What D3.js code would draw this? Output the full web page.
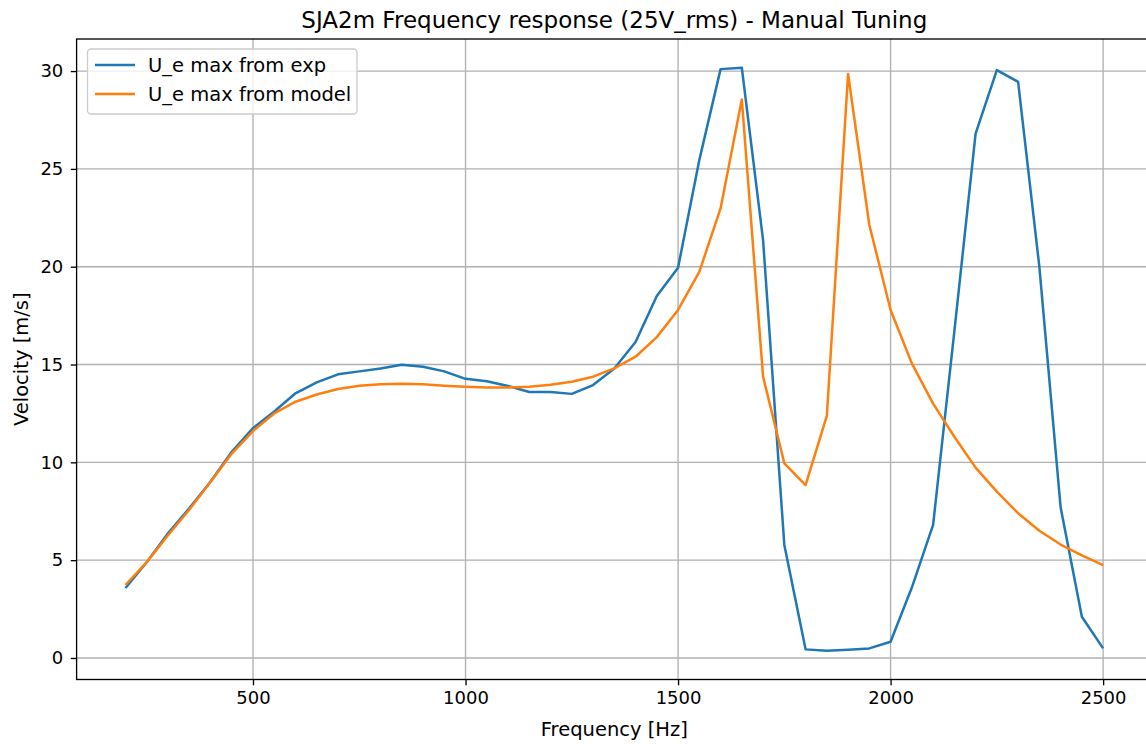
<!DOCTYPE html>
<html>
<head>
<meta charset="utf-8">
<script src="https://cdn.jsdelivr.net/npm/d3@7"></script>
<style>
  html, body { margin: 0; padding: 0; background: #fff; }
  svg { display: block; font-family: "DejaVu Sans", sans-serif; }
</style>
</head>
<body>
<svg id="chart" width="1146" height="744"></svg>
<script>
const frequencies = [200,250,300,350,400,450,500,550,600,650,700,750,800,850,900,950,1000,1050,1100,1150,1200,1250,1300,1350,1400,1450,1500,1550,1600,1650,1700,1750,1800,1850,1900,1950,2000,2050,2100,2150,2200,2250,2300,2350,2400,2450,2500];
const expValues = [3.58,4.89,6.37,7.65,9.01,10.54,11.75,12.6,13.53,14.09,14.5,14.65,14.8,14.99,14.89,14.65,14.27,14.15,13.9,13.6,13.6,13.5,13.95,14.8,16.15,18.5,19.95,25.45,30.1,30.17,21.36,5.78,0.44,0.37,0.42,0.49,0.83,3.6,6.8,16.7,26.8,30.05,29.45,20.0,7.7,2.11,0.49];
const modelValues = [3.73,4.9,6.27,7.58,9.0,10.45,11.6,12.5,13.1,13.47,13.75,13.92,13.99,14.02,13.99,13.92,13.87,13.83,13.82,13.87,13.97,14.12,14.38,14.8,15.4,16.4,17.79,19.74,22.98,28.55,14.38,9.95,8.84,12.37,29.85,22.13,17.79,15.06,13.0,11.31,9.73,8.5,7.4,6.5,5.8,5.25,4.75];
const seriesNames = ["U_e max from exp", "U_e max from model"];
const seriesColors = ["#1f77b4", "#ff7f0e"];
const xTicks = [500,1000,1500,2000,2500];
const yTicks = [0,5,10,15,20,25,30];
const titleText = "SJA2m Frequency response (25V_rms) - Manual Tuning";
const xLabelText = "Frequency [Hz]";
const yLabelText = "Velocity [m/s]";

(function () {
const svg = d3.select("#chart");
const pL = 76.6, pR = 1152, pT = 39, pB = 679.5;

const x = d3.scaleLinear().domain([85, 2615]).range([pL, pR]);
const y = d3.scaleLinear().domain([-1.1, 31.64]).range([pB, pT]);

// grid
const g = svg.append("g");
g.selectAll(".vg").data(xTicks).enter().append("line")
  .attr("x1", d => x(d)).attr("x2", d => x(d))
  .attr("y1", pT).attr("y2", pB)
  .attr("stroke", "#b0b0b0").attr("stroke-width", 1.33);
g.selectAll(".hg").data(yTicks).enter().append("line")
  .attr("x1", pL).attr("x2", pR)
  .attr("y1", d => y(d)).attr("y2", d => y(d))
  .attr("stroke", "#b0b0b0").attr("stroke-width", 1.33);

// lines
const series = [expValues, modelValues];
const lineGen = d3.line().x((d, i) => x(frequencies[i])).y(d => y(d));
series.forEach((vals, k) => {
  svg.append("path").datum(vals)
    .attr("d", lineGen)
    .attr("fill", "none")
    .attr("stroke", seriesColors[k])
    .attr("stroke-width", 2.5)
    .attr("stroke-linejoin", "round")
    .attr("stroke-linecap", "butt");
});

// axes
const xAxis = d3.axisBottom(x).tickValues(xTicks).tickSize(5.8).tickPadding(5.8).tickFormat(d3.format("d"));
const yAxis = d3.axisLeft(y).tickValues(yTicks).tickSize(5.8).tickPadding(7.5).tickFormat(d3.format("d"));
const xa = svg.append("g").attr("transform", `translate(0,${pB})`).call(xAxis);
const ya = svg.append("g").attr("transform", `translate(${pL},0)`).call(yAxis);
[xa, ya].forEach(a => {
  a.select(".domain").remove();
  a.selectAll(".tick line").attr("stroke", "#000").attr("stroke-width", 1.33);
  a.selectAll(".tick text").attr("font-size", "18px").attr("fill", "#000")
    .attr("font-family", "DejaVu Sans, sans-serif");
});

// spines
svg.append("rect").attr("x", pL).attr("y", pT)
  .attr("width", pR - pL).attr("height", pB - pT)
  .attr("fill", "none").attr("stroke", "#000").attr("stroke-width", 1.33);

// title & labels
svg.append("text").attr("x", (pL + pR) / 2).attr("y", 28)
  .attr("text-anchor", "middle").attr("font-size", "23px").attr("fill", "#000").text(titleText);
svg.append("text").attr("x", (pL + pR) / 2).attr("y", 736)
  .attr("text-anchor", "middle").attr("font-size", "19.5px").attr("fill", "#000").text(xLabelText);
svg.append("text").attr("transform", `translate(28,${(pT + pB) / 2}) rotate(-90)`)
  .attr("text-anchor", "middle").attr("font-size", "19.5px").attr("fill", "#000").text(yLabelText);

// legend
const lg = svg.append("g");
lg.append("rect").attr("x", 87.5).attr("y", 49).attr("width", 269.5).attr("height", 65)
  .attr("rx", 3.5).attr("fill", "#fff").attr("fill-opacity", 0.8)
  .attr("stroke", "#cccccc").attr("stroke-width", 1.33);
seriesNames.forEach((name, i) => {
  const yy = 65 + i * 29;
  lg.append("line").attr("x1", 95).attr("x2", 135).attr("y1", yy).attr("y2", yy)
    .attr("stroke", seriesColors[i]).attr("stroke-width", 2.5);
  lg.append("text").attr("x", 148).attr("y", yy + 7).attr("font-size", "19.5px")
    .attr("fill", "#000").text(name);
});
})();
</script>
</body>
</html>
